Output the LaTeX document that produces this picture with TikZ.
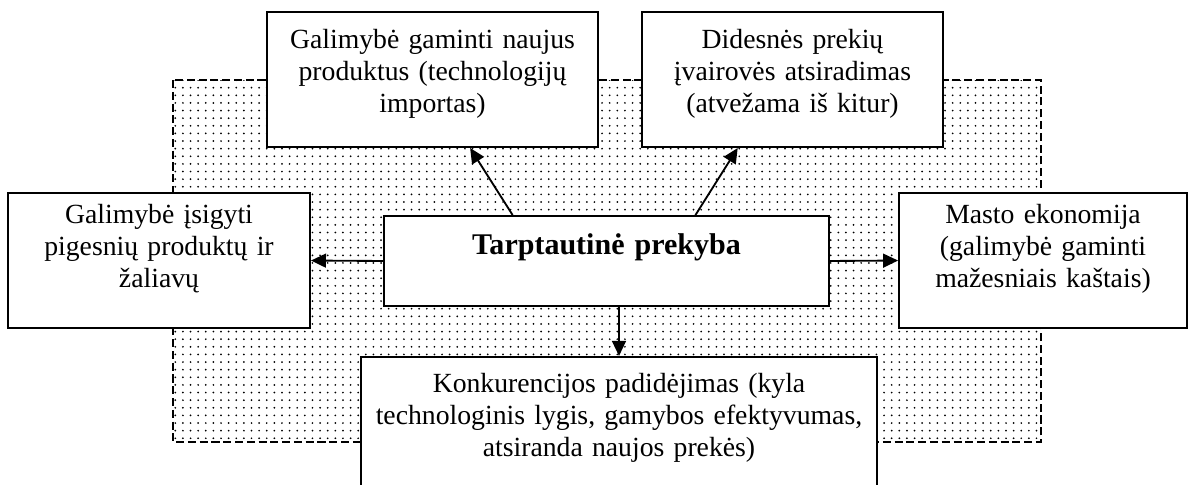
\documentclass[tikz,border=0pt]{standalone}
\usepackage{fontspec}
\setmainfont{Liberation Serif}
\usetikzlibrary{arrows.meta, calc, patterns.meta}

\tikzdeclarepattern{
  name=finedots,
  bounding box={(-1.65pt,-1.65pt) and (1.65pt,1.65pt)},
  tile size={(3.3pt,3.3pt)},
  code={\fill (0pt,0pt) circle (0.42pt);}
}

\tikzset{
  box/.style={draw, line width=0.8pt, fill=white, inner sep=0pt, align=center,
    anchor=base, font={\fontsize{12}{14}\selectfont\normalbaselineskip=14pt}},
  arr/.style={-{Triangle[length=6.5pt, width=6pt]}, line width=0.8pt},
  dotarea/.style={pattern=finedots, line width=0.8pt, dash pattern=on 3.5pt off 1.6pt}
}

\begin{document}
\begin{tikzpicture}[x=0.433pt, y=-0.433pt]
\useasboundingbox (0,0) rectangle (1193,484);
\clip (0,0) rectangle (1193,484);

% dotted field behind the boxes
\draw[dotarea] (173,80) rectangle (1041,442);

\node[box, text width=143.3pt, text height=15.6pt, text depth=42.9pt] (naujus) at (432.5,48)
  {Galimybė gaminti naujus\\ produktus (technologijų\\ importas)};
\node[box, text width=130.3pt, text height=15.6pt, text depth=42.9pt] (ivairove) at (792.5,48)
  {Didesnės prekių\\ įvairovės atsiradimas\\ (atvežama iš kitur)};
\node[box, text width=130.8pt, text height=13pt, text depth=45.5pt] (pigesni) at (159,223)
  {Galimybė įsigyti\\ pigesnių produktų ir\\ žaliavų};
\node[box, text width=192.7pt, text height=16.45pt, text depth=22.5pt,
  font=\bfseries\fontsize{13}{15}\selectfont] (prekyba) at (606.5,254) {Tarptautinė prekyba};
\node[box, text width=124.7pt, text height=13pt, text depth=45.5pt] (masto) at (1043,223)
  {Masto ekonomija\\ (galimybė gaminti\\ mažesniais kaštais)};
\node[box, text width=223.4pt, text height=15.2pt, text depth=42.4pt] (konkur) at (619,392)
  {Konkurencijos padidėjimas (kyla\\ technologinis lygis, gamybos efektyvumas,\\ atsiranda naujos prekės)};

\draw[arr] ($(prekyba.north west)!0.29!(prekyba.north east)$) -- ($(naujus.south west)!0.613!(naujus.south east)$);
\draw[arr] ($(prekyba.north west)!0.699!(prekyba.north east)$) -- ($(ivairove.south west)!0.319!(ivairove.south east)$);
\draw[arr] (prekyba.west) -- (pigesni.east);
\draw[arr] (prekyba.east) -- (masto.west);
\draw[arr] (prekyba.south -| konkur.north) -- (konkur.north);
\end{tikzpicture}
\end{document}
